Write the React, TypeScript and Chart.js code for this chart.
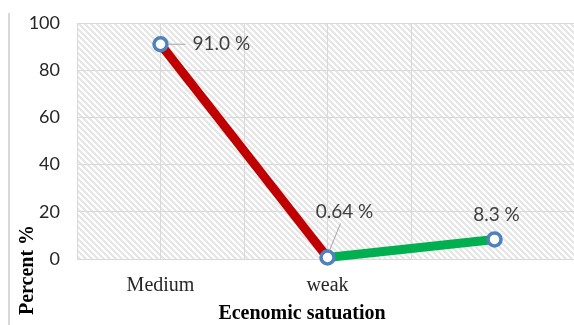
import React, { useEffect, useRef } from 'react';
import { Chart, registerables } from 'chart.js';

Chart.register(...registerables);

// ---- data ----
const categories = ['Medium', 'weak', 'High'];
const percentValues = [91.0, 0.64, 8.3];
const valueLabels = ['91.0 %', '0.64 %', '8.3 %'];
const segmentColors = ['#c00000', '#00b050'];
const yMin = 0;
const yMax = 100;
const yStep = 20;
const xTitle = 'Ecenomic satuation';
const yTitle = 'Percent %';

function makeHatch(ctx: CanvasRenderingContext2D) {
  const size = 6;
  const c = document.createElement('canvas');
  c.width = size;
  c.height = size;
  const g = c.getContext('2d')!;
  const img = g.createImageData(size, size);
  for (let y = 0; y < size; y++) {
    for (let x = 0; x < size; x++) {
      const i = (y * size + x) * 4;
      const on = ((x - y + size * 10) % size) < 3;
      const v = on ? 230 : 255;
      img.data[i] = v;
      img.data[i + 1] = v;
      img.data[i + 2] = v;
      img.data[i + 3] = 255;
    }
  }
  g.putImageData(img, 0, 0);
  return ctx.createPattern(c, 'repeat')!;
}

const decorPlugin = {
  id: 'decor',
  beforeDraw(chart: any) {
    const { ctx, chartArea: a } = chart;
    ctx.save();
    ctx.fillStyle = '#ffffff';
    ctx.fillRect(0, 0, chart.width, chart.height);
    ctx.fillStyle = makeHatch(ctx);
    ctx.fillRect(a.left, a.top, a.right - a.left, a.bottom - a.top);
    ctx.strokeStyle = '#d9d9d9';
    ctx.lineWidth = 2;
    ctx.beginPath();
    ctx.moveTo(9, 13);
    ctx.lineTo(9, chart.height);
    ctx.stroke();
    ctx.restore();
  },
  afterDraw(chart: any) {
    const { ctx } = chart;
    const pts = chart.getDatasetMeta(0).data;
    ctx.save();
    // axis titles
    ctx.fillStyle = '#000000';
    ctx.font = 'bold 20px "Liberation Serif"';
    ctx.textAlign = 'center';
    ctx.textBaseline = 'middle';
    ctx.fillText(xTitle, 302, 314);
    ctx.save();
    ctx.translate(28, 270);
    ctx.rotate(-Math.PI / 2);
    ctx.fillText(yTitle, 0, 0);
    ctx.restore();

    // leader lines
    ctx.strokeStyle = '#a6a6a6';
    ctx.lineWidth = 1;
    const p0 = pts[0];
    const p1 = pts[1];
    const p2 = pts[2];
    ctx.beginPath();
    ctx.moveTo(p0.x + 8, p0.y);
    ctx.lineTo(p0.x + 25, p0.y);
    ctx.moveTo(p1.x + 2, p1.y - 7);
    ctx.lineTo(p1.x + 13, p1.y - 34);
    ctx.stroke();

    // value labels
    ctx.fillStyle = '#404040';
    ctx.font = '19px Lato';
    ctx.textBaseline = 'middle';
    ctx.textAlign = 'left';
    ctx.fillText(valueLabels[0], p0.x + 32, p0.y);
    ctx.textAlign = 'center';
    ctx.fillText(valueLabels[1], p1.x + 17, p1.y - 46);
    ctx.fillText(valueLabels[2], p2.x + 2, p2.y - 25);
    ctx.restore();
  },
};

export default function App() {
  const ref = useRef<HTMLCanvasElement>(null);

  useEffect(() => {
    if (!ref.current) return;
    const points = categories.map((_, i) => ({ x: i, y: percentValues[i] }));
    const chart = new Chart(ref.current, {
      type: 'line',
      data: {
        datasets: [
          {
            data: points,
            borderWidth: 9,
            borderColor: segmentColors[0],
            segment: {
              borderColor: (c: any) => segmentColors[c.p0DataIndex] ?? segmentColors[0],
            },
            tension: 0,
            pointRadius: 6.5,
            pointHoverRadius: 6.5,
            pointBorderWidth: 3.5,
            pointBackgroundColor: '#ffffff',
            pointBorderColor: '#4f81bd',
            clip: false as any,
          },
        ],
      },
      options: {
        animation: false,
        responsive: false,
        devicePixelRatio: 1,
        layout: { autoPadding: false, padding: { top: 23, left: 0, right: 0, bottom: 0 } },
        plugins: {
          legend: { display: false },
          tooltip: { enabled: false },
          title: { display: false },
        },
        scales: {
          x: {
            type: 'linear',
            min: -0.5,
            max: 2.476,
            afterBuildTicks: (s: any) => {
              s.ticks = s.ticks.filter(
                (t: any) => Math.abs(t.value * 2 - Math.round(t.value * 2)) < 1e-6
              );
            },
            afterFit: (s: any) => {
              s.height = 66;
              s.paddingLeft = 0;
              s.paddingRight = 0;
            },
            grid: { color: '#d9d9d9', lineWidth: 1, drawTicks: false },
            border: { display: false },
            ticks: {
              stepSize: 0.5,
              autoSkip: false,
              maxRotation: 0,
              padding: 15,
              color: '#262626',
              font: { family: '"Liberation Serif"', size: 20 },
              callback: (v: any) => {
                const n = Number(v);
                return Number.isInteger(n) && categories[n] !== undefined ? categories[n] : '';
              },
            },
          },
          y: {
            min: yMin,
            max: yMax,
            afterFit: (s: any) => {
              s.width = 77;
              s.paddingTop = 0;
              s.paddingBottom = 0;
            },
            grid: { color: '#d9d9d9', lineWidth: 1, drawTicks: false },
            border: { display: false },
            ticks: {
              stepSize: yStep,
              padding: 17,
              color: '#262626',
              font: { family: 'Lato', size: 18 },
            },
          },
        },
      },
      plugins: [decorPlugin],
    } as any);
    return () => chart.destroy();
  }, []);

  return (
    <div style={{ position: 'fixed', left: 0, top: 0, width: 574, height: 325 }}>
      <canvas ref={ref} width={574} height={325} style={{ display: 'block' }} />
    </div>
  );
}
